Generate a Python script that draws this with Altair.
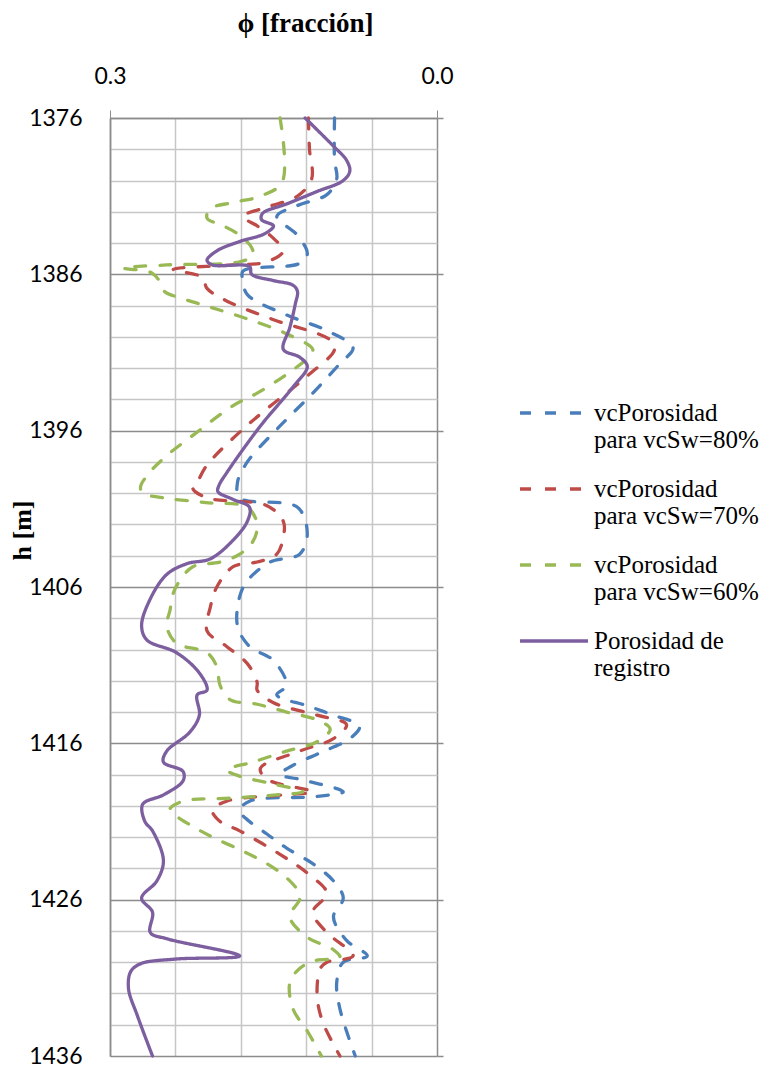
import altair as alt
import pandas as pd

# ---- data (depth h [m], porosity phi [fraction]) ----
h_80 = [1376.0, 1378.7, 1379.9, 1380.9, 1381.6, 1382.3, 1383.5, 1384.7, 1385.3, 1385.8,
        1386.4, 1387.3, 1388.6, 1389.6, 1390.7, 1391.7, 1393.6, 1395.7, 1398.0, 1399.3,
        1400.3, 1400.9, 1402.6, 1403.9, 1404.4, 1405.6, 1406.6, 1408.5, 1409.8, 1410.7,
        1412.3, 1412.9, 1413.6, 1414.2, 1414.9, 1415.7, 1416.6, 1417.4, 1418.0, 1418.3,
        1419.1, 1419.4, 1419.7, 1420.3, 1421.0, 1421.8, 1422.7, 1423.7, 1424.8, 1425.9,
        1427.1, 1428.6, 1429.6, 1430.0, 1431.3, 1433.0, 1436.0]
phi_80 = [0.094, 0.094, 0.092, 0.101, 0.128, 0.147, 0.128, 0.119, 0.126, 0.178,
          0.178, 0.174, 0.138, 0.101, 0.077, 0.089, 0.114, 0.144, 0.174, 0.183,
          0.181, 0.128, 0.119, 0.126, 0.153, 0.174, 0.181, 0.183, 0.172, 0.150,
          0.138, 0.147, 0.119, 0.095, 0.071, 0.080, 0.107, 0.132, 0.144, 0.126,
          0.086, 0.110, 0.172, 0.181, 0.172, 0.156, 0.138, 0.114, 0.095, 0.086,
          0.095, 0.083, 0.064, 0.086, 0.092, 0.089, 0.075]

h_70 = [1376.0, 1378.0, 1379.9, 1381.0, 1381.7, 1382.3, 1382.9, 1383.7, 1384.5, 1385.2,
        1385.4, 1385.7, 1386.2, 1386.9, 1387.7, 1388.9, 1390.2, 1390.8, 1392.5, 1394.6,
        1395.9, 1398.2, 1399.3, 1399.7, 1400.3, 1400.8, 1401.8, 1402.8, 1403.9, 1404.4,
        1404.7, 1406.0, 1407.3, 1408.8, 1409.8, 1410.9, 1412.1, 1412.6, 1413.4, 1414.2,
        1414.8, 1415.7, 1416.5, 1417.6, 1418.3, 1419.1, 1419.3, 1419.7, 1420.3, 1421.0,
        1421.6, 1423.1, 1424.3, 1425.6, 1426.8, 1428.1, 1429.6, 1430.0, 1430.4, 1432.1,
        1433.8, 1436.0]
phi_70 = [0.118, 0.117, 0.115, 0.128, 0.156, 0.178, 0.165, 0.150, 0.141, 0.156,
          0.187, 0.242, 0.215, 0.211, 0.193, 0.150, 0.098, 0.094, 0.119, 0.156,
          0.178, 0.211, 0.220, 0.224, 0.211, 0.156, 0.141, 0.141, 0.147, 0.165,
          0.187, 0.202, 0.208, 0.211, 0.193, 0.174, 0.165, 0.165, 0.150, 0.110,
          0.083, 0.095, 0.126, 0.162, 0.156, 0.114, 0.141, 0.193, 0.206, 0.199,
          0.181, 0.144, 0.119, 0.101, 0.114, 0.101, 0.077, 0.101, 0.107, 0.110,
          0.105, 0.089]

h_60 = [1376.0, 1380.1, 1381.0, 1381.4, 1381.8, 1382.4, 1382.9, 1383.5, 1384.3, 1384.8,
        1385.2, 1385.4, 1385.6, 1385.9, 1386.5, 1387.1, 1387.5, 1388.1, 1388.9, 1389.8,
        1390.8, 1391.3, 1392.4, 1393.6, 1394.4, 1396.3, 1397.6, 1398.7, 1399.6, 1400.0,
        1400.3, 1400.6, 1400.9, 1402.0, 1403.1, 1403.9, 1404.4, 1404.7, 1405.6, 1406.4,
        1407.5, 1408.5, 1409.6, 1410.2, 1411.1, 1412.3, 1413.2, 1413.5, 1414.0, 1414.5,
        1415.1, 1415.9, 1416.5, 1417.2, 1417.7, 1418.1, 1418.6, 1419.1, 1419.3, 1419.5,
        1419.7, 1420.2, 1420.5, 1421.2, 1422.0, 1422.9, 1423.7, 1424.6, 1425.6, 1426.0,
        1427.1, 1428.4, 1429.2, 1429.7, 1429.9, 1430.4, 1431.3, 1433.0, 1434.4, 1436.0]
phi_60 = [0.144, 0.142, 0.162, 0.187, 0.208, 0.211, 0.196, 0.181, 0.170, 0.169,
          0.181, 0.248, 0.288, 0.262, 0.254, 0.250, 0.236, 0.208, 0.172, 0.138,
          0.114, 0.118, 0.138, 0.165, 0.187, 0.224, 0.248, 0.264, 0.272, 0.270,
          0.251, 0.212, 0.174, 0.165, 0.169, 0.181, 0.199, 0.224, 0.236, 0.242,
          0.245, 0.248, 0.239, 0.211, 0.202, 0.199, 0.190, 0.165, 0.138, 0.110,
          0.098, 0.110, 0.138, 0.169, 0.193, 0.181, 0.150, 0.123, 0.147, 0.187,
          0.233, 0.245, 0.242, 0.227, 0.206, 0.178, 0.156, 0.138, 0.126, 0.126,
          0.135, 0.119, 0.095, 0.089, 0.112, 0.126, 0.135, 0.132, 0.119, 0.106]

h_reg = [1376.0, 1377.8, 1378.7, 1379.4, 1380.0, 1380.7, 1381.5, 1382.1, 1382.5, 1382.9,
         1383.4, 1383.9, 1384.5, 1385.1, 1385.4, 1385.5, 1386.0, 1386.4, 1386.7, 1387.1,
         1387.9, 1389.4, 1390.8, 1391.3, 1391.9, 1393.2, 1395.7, 1398.7, 1399.5, 1399.9,
         1400.4, 1400.9, 1401.8, 1403.0, 1404.2, 1404.5, 1405.2, 1406.9, 1408.5, 1409.4,
         1410.2, 1411.5, 1412.6, 1412.9, 1414.2, 1415.3, 1416.5, 1417.2, 1417.8, 1418.4,
         1419.3, 1419.9, 1421.0, 1421.6, 1423.5, 1424.8, 1425.9, 1426.8, 1428.1, 1428.5,
         1429.6, 1429.8, 1430.1, 1430.6, 1431.7, 1433.4, 1436.0]
phi_reg = [0.121, 0.095, 0.083, 0.080, 0.086, 0.110, 0.138, 0.160, 0.161, 0.150,
           0.158, 0.181, 0.202, 0.211, 0.206, 0.172, 0.170, 0.150, 0.132, 0.128,
           0.130, 0.135, 0.141, 0.126, 0.119, 0.132, 0.162, 0.193, 0.200, 0.201,
           0.187, 0.172, 0.174, 0.187, 0.208, 0.229, 0.248, 0.264, 0.271, 0.266,
           0.239, 0.218, 0.211, 0.220, 0.218, 0.227, 0.248, 0.251, 0.233, 0.233,
           0.251, 0.270, 0.268, 0.261, 0.251, 0.257, 0.271, 0.261, 0.263, 0.248,
           0.181, 0.240, 0.272, 0.281, 0.283, 0.275, 0.261]

series_names = ["vcPorosidad para vcSw=80%", "vcPorosidad para vcSw=70%",
                "vcPorosidad para vcSw=60%", "Porosidad de registro"]
series_colors = ["#4A7EBB", "#BE4B48", "#98B954", "#7D5FA0"]
series_dash = [[11, 14], [11, 14], [11, 14], [1, 0]]

rows = []
for name, hs, ps in zip(series_names, [h_80, h_70, h_60, h_reg], [phi_80, phi_70, phi_60, phi_reg]):
    for i, (h, p) in enumerate(zip(hs, ps)):
        rows.append({"serie": name, "h": h, "phi": p, "idx": i})
df = pd.DataFrame(rows)

x_vals = [0.0, 0.06, 0.12, 0.18, 0.24, 0.3]
y_vals = list(range(1376, 1437, 2))
y_major = list(range(1376, 1437, 10))

MAJOR = "#8C8C8C"
MINOR = "#C6C6C6"

leg = alt.Legend(
    title=None, orient="none", legendX=408, legendY=259,
    labelFont="Liberation Serif", labelFontSize=25, labelColor="black",
    labelExpr="indexof(datum.label, 'vcPorosidad') == 0 ? ['vcPorosidad', slice(datum.label, 12)] : ['Porosidad de', 'registro']",
    labelLimit=400, labelOffset=4, labelBaseline="middle",
    symbolType="stroke", symbolSize=4624, symbolStrokeWidth=3.3,
    rowPadding=0,
)

x_enc = alt.X("phi:Q",
              scale=alt.Scale(domain=[0, 0.3], reverse=True, nice=False, zero=False),
              axis=alt.Axis(orient="top", values=x_vals, title="ϕ [fracción]",
                            labelExpr="datum.value == 0 || datum.value > 0.29 ? format(datum.value, '.1f') : ''",
                            labelFont="Lato", labelFontSize=23, labelColor="black",
                            labelBaseline="alphabetic", labelPadding=27, labelFlush=False, labelOverlap=False,
                            tickSize=8,
                            tickColor=alt.condition("datum.value == 0 || datum.value > 0.29", alt.value(MAJOR), alt.value("transparent")),
                            grid=True,
                            gridColor=alt.condition("datum.value == 0 || datum.value > 0.29", alt.value(MAJOR), alt.value(MINOR)),
                            gridWidth=1.5, domainColor=MAJOR, domainWidth=1.5,
                            titleFont="Liberation Serif", titleFontSize=27, titleFontWeight="bold",
                            titleColor="black", titleX=195, titleY=-87, titleBaseline="alphabetic"))

lines = alt.Chart(df).mark_line(strokeWidth=3.3, interpolate="catmull-rom", strokeCap="round").encode(
    x=x_enc,
    y=alt.Y("h:Q",
            scale=alt.Scale(domain=[1376, 1436], reverse=True, nice=False, zero=False),
            axis=alt.Axis(orient="left", values=y_vals, title="h [m]",
                          labelExpr="(datum.value - 1376) % 10 == 0 ? datum.label : ''",
                          format="d",
                          labelFont="Lato", labelFontSize=23, labelColor="black",
                          labelPadding=28, labelOverlap=False, ticks=False,
                          grid=True,
                          gridColor=alt.condition("(datum.value - 1376) % 10 == 0", alt.value(MAJOR), alt.value(MINOR)),
                          gridWidth=1.5, domainColor=MAJOR, domainWidth=1.5,
                          titleFont="Liberation Serif", titleFontSize=26, titleFontWeight="bold",
                          titleColor="black", titleX=-88, titleY=412, titleBaseline="middle")),
    color=alt.Color("serie:N", scale=alt.Scale(domain=series_names, range=series_colors), legend=leg),
    strokeDash=alt.StrokeDash("serie:N", scale=alt.Scale(domain=series_names, range=series_dash), legend=leg),
    order=alt.Order("idx:Q"),
)

right_ticks = alt.Chart(df).mark_line(opacity=0).encode(
    x=x_enc,
    y=alt.Y("h:Q", axis=alt.Axis(orient="right", values=y_major, labels=False, title=None,
                                 domain=False, grid=False, tickSize=6, tickColor=MAJOR, tickWidth=1.5)),
    detail="serie:N",
    order=alt.Order("idx:Q"),
)

chart = alt.layer(lines, right_ticks).resolve_axis(y="independent").properties(
    width=327, height=938,
    autosize=alt.AutoSizeParams(type="none"),
    padding={"left": 102, "top": 110, "right": 322, "bottom": 14},
).configure_view(stroke=None)

chart.save("out.html", embed_options={"renderer": "svg", "actions": False})
